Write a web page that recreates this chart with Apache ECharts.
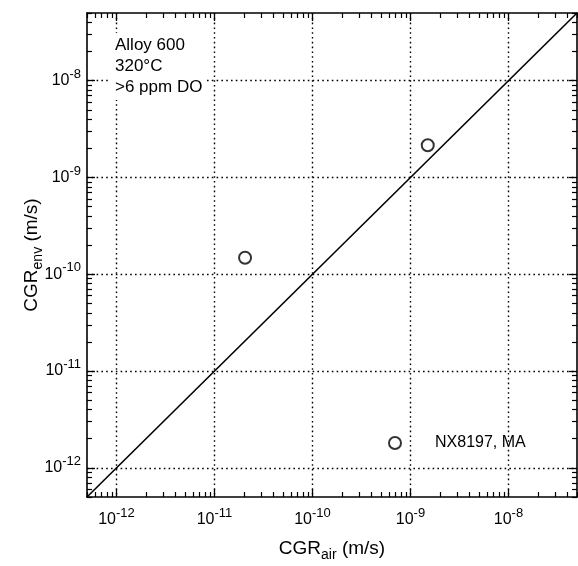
<!DOCTYPE html>
<html>
<head>
<meta charset="utf-8">
<script src="https://cdn.jsdelivr.net/npm/echarts@6/dist/echarts.min.js"></script>
<style>html,body{margin:0;padding:0;background:#fff;}#c{width:578px;height:566px;}</style>
</head>
<body>
<div id="c"></div>
<script>
// ---- data ----
const seriesName = 'NX8197, MA';
const cgrAir = [2.05e-11, 1.5e-9];
const cgrEnv = [1.48e-10, 2.15e-9];
const refLineX = [5e-13, 5e-8];
const refLineY = [5e-13, 5e-8];
const decadeTicks = [1e-12, 1e-11, 1e-10, 1e-9, 1e-8];
const minorMultipliers = [2, 3, 4, 5, 6, 7, 8, 9];
const axisMin = 5e-13, axisMax = 5e-8;
const annotation = ['Alloy 600', '320°C', '>6 ppm DO'];

const minorTicks = [];
[1e-13].concat(decadeTicks).forEach(d => {
  minorMultipliers.forEach(m => {
    const v = +(m * d).toPrecision(3);
    if (v >= axisMin && v <= axisMax) minorTicks.push(v);
  });
});

const FONT = 'Liberation Sans, Arial, Helvetica, sans-serif';
const black = '#000';

const labelRich = {
  b: { fontSize: 16, fontFamily: FONT, color: black, lineHeight: 26 },
  s: { fontSize: 13, fontFamily: FONT, color: black, lineHeight: 12, verticalAlign: 'top' }
};
const labelFmt = v => '{b|10}{s|' + Math.round(Math.log10(v)) + '}';

function mainAxis(pos, isX) {
  return {
    type: 'log', logBase: 10, position: pos, min: axisMin, max: axisMax,
    axisLine: { show: true, onZero: false, lineStyle: { color: black, width: 1.6 } },
    axisTick: { show: true, inside: true, length: 8, customValues: decadeTicks, lineStyle: { color: black, width: 1.3 } },
    axisLabel: { show: true, customValues: decadeTicks, formatter: labelFmt, rich: labelRich, margin: isX ? 10 : 6 },
    splitLine: { show: true, lineStyle: { color: black, width: 1.4, type: [1.6, 3.2] } },
    minorTick: { show: false }, minorSplitLine: { show: false }
  };
}
function minorAxis(pos, showLine) {
  return {
    type: 'log', logBase: 10, position: pos, min: axisMin, max: axisMax,
    axisLine: { show: showLine, onZero: false, lineStyle: { color: black, width: 1.6 } },
    axisTick: { show: true, inside: true, length: 5, customValues: minorTicks, lineStyle: { color: black, width: 1.2 } },
    axisLabel: { show: false },
    splitLine: { show: false }
  };
}
function majorMirror(pos) {
  return {
    type: 'log', logBase: 10, position: pos, min: axisMin, max: axisMax,
    axisLine: { show: false },
    axisTick: { show: true, inside: true, length: 8, customValues: decadeTicks, lineStyle: { color: black, width: 1.3 } },
    axisLabel: { show: false },
    splitLine: { show: false }
  };
}

const titleRich = {
  m: { fontSize: 19, fontFamily: FONT, color: black, lineHeight: 26 },
  sub: { fontSize: 14, fontFamily: FONT, color: black, lineHeight: 14, verticalAlign: 'bottom' }
};
const xMain = mainAxis('bottom', true);
xMain.name = '{m|CGR}{sub|air}{m| (m/s)}';
xMain.nameLocation = 'middle';
xMain.nameGap = 39;
xMain.nameMoveOverlap = false;
xMain.nameTextStyle = { rich: titleRich };
const yMain = mainAxis('left', false);
yMain.name = '{m|CGR}{sub|env}{m| (m/s)}';
yMain.nameLocation = 'middle';
yMain.nameGap = 42;
yMain.nameMoveOverlap = false;
yMain.nameTextStyle = { rich: titleRich };

const chart = echarts.init(document.getElementById('c'), null, { renderer: 'canvas' });
chart.setOption({
  animation: false,
  backgroundColor: '#fff',
  textStyle: { fontFamily: FONT },
  grid: { left: 87, right: 1, top: 13, bottom: 69, containLabel: false, outerBoundsMode: 'none' },
  title: {
    text: annotation.join('\n'),
    left: 111, top: 33,
    padding: [2, 4, 2, 4],
    backgroundColor: '#fff',
    textStyle: { fontSize: 17, fontWeight: 'normal', color: black, fontFamily: FONT, lineHeight: 21 }
  },
  legend: {
    data: [seriesName],
    left: 383, top: 430,
    icon: 'emptyCircle',
    itemWidth: 12, itemHeight: 12,
    textStyle: { fontSize: 16, color: black, fontFamily: FONT, padding: [0, 0, 0, 29] }
  },
  xAxis: [xMain, minorAxis('bottom', false), minorAxis('top', true), majorMirror('top')],
  yAxis: [yMain, minorAxis('left', false), minorAxis('right', true), majorMirror('right')],
  series: [
    {
      name: 'ref',
      type: 'line',
      xAxisIndex: 0, yAxisIndex: 0,
      data: refLineX.map((x, i) => [x, refLineY[i]]),
      symbol: 'none',
      lineStyle: { color: black, width: 1.6 },
      silent: true
    },
    {
      name: seriesName,
      type: 'scatter',
      xAxisIndex: 0, yAxisIndex: 0,
      data: cgrAir.map((x, i) => [x, cgrEnv[i]]),
      symbol: 'emptyCircle',
      symbolSize: 12,
      itemStyle: { color: black, borderColor: black, borderWidth: 1.6 }
    }
  ]
});
</script>
</body>
</html>
